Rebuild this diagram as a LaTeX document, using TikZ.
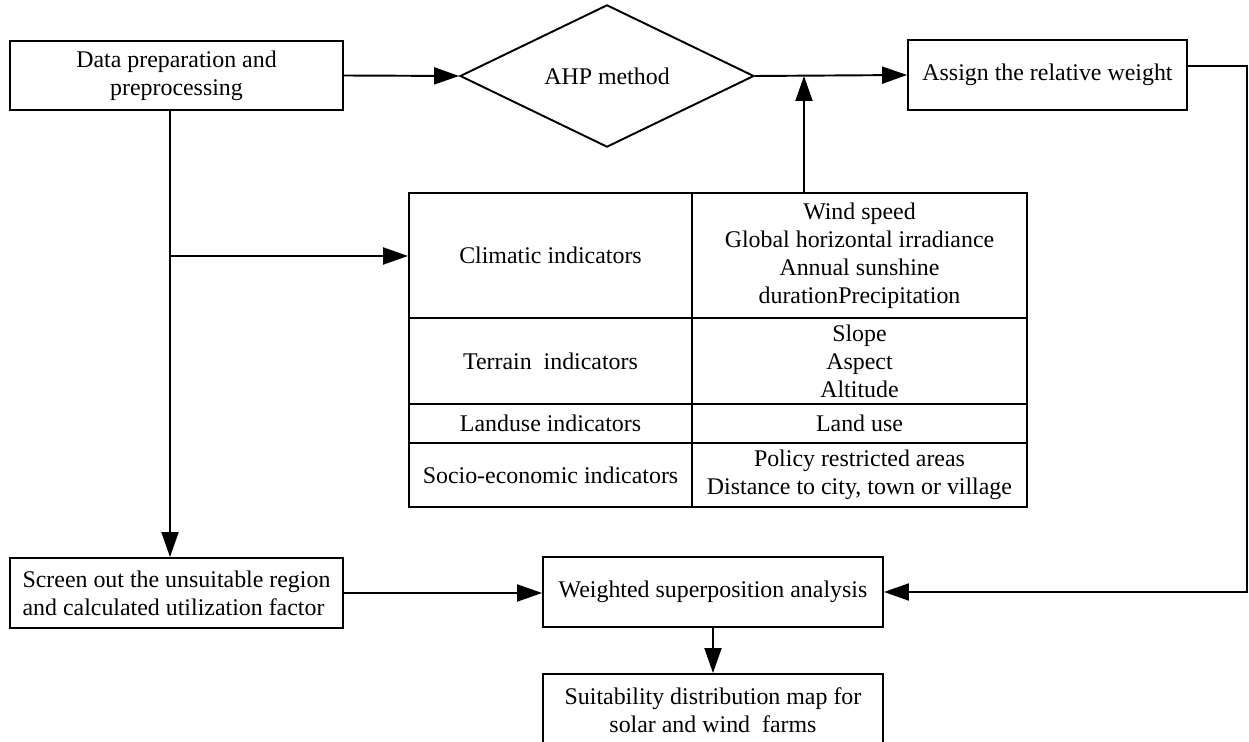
\documentclass[tikz,border=0pt]{standalone}
\usepackage{fontspec}
\setmainfont{Liberation Serif}
\usetikzlibrary{shapes.geometric,arrows.meta}

\begin{document}
\begin{tikzpicture}[x=0.02cm, y=-0.02cm, line width=1.1pt,
  box/.style={draw, align=center, inner sep=0pt, font=\fontsize{13.6}{15.9}\selectfont},
  arrow/.style={-{Triangle[length=0.5cm,width=0.34cm]}}]

\useasboundingbox (0,0) rectangle (1249,742);
\clip (0,0) rectangle (1249,742);

\node[box, minimum width=6.66cm, minimum height=1.38cm] (datanode) at (176.5,75.5) {Data preparation and\\preprocessing};
\node[box, diamond, minimum width=5.88cm, minimum height=2.68cm] (ahpnode) at (607,76) {AHP method};
\node[box, minimum width=5.58cm, minimum height=1.4cm] (weightnode) at (1047.5,75) {Assign the relative weight};

\node[box, minimum width=5.66cm, minimum height=2.5cm] (climnode) at (550.5,255.5) {Climatic indicators};
\node[box, minimum width=6.7cm, minimum height=2.5cm] (climvalnode) at (859.5,255.5) {Wind speed\\Global horizontal irradiance\\Annual sunshine\\durationPrecipitation};
\node[box, minimum width=5.66cm, minimum height=1.72cm] (terrnode) at (550.5,361) {Terrain~ indicators};
\node[box, minimum width=6.7cm, minimum height=1.72cm] (terrvalnode) at (859.5,361) {Slope\\Aspect\\Altitude};
\node[box, minimum width=5.66cm, minimum height=0.78cm] (landnode) at (550.5,423.5) {Landuse indicators};
\node[box, minimum width=6.7cm, minimum height=0.78cm] (landvalnode) at (859.5,423.5) {Land use};
\node[box, minimum width=5.66cm, minimum height=1.28cm] (socnode) at (550.5,475) {Socio-economic indicators};
\node[box, minimum width=6.7cm, minimum height=1.28cm] (socvalnode) at (859.5,475) {Policy restricted areas\\Distance to city, town or village};

\node[box, align=left, minimum width=6.66cm, minimum height=1.4cm] (screennode) at (176.5,593) {Screen out the unsuitable region\\and calculated utilization factor};
\node[box, minimum width=6.8cm, minimum height=1.4cm] (weightednode) at (713,592) {Weighted superposition analysis};
\node[box, minimum width=6.8cm, minimum height=1.44cm] (suitnode) at (713,710) {Suitability distribution map for\\solar and wind~ farms};

\coordinate (forkpt) at (170,256);
\coordinate (joinpt) at (804,76);
\coordinate (loopcorner) at (1247,66);

\draw[arrow] (datanode.east) -- (ahpnode.west);
\draw[arrow] (ahpnode.east) -- (weightnode.west);
\draw[arrow] (climvalnode.north -| joinpt) -- (joinpt);
\draw[arrow] (datanode.south -| forkpt) -- (screennode.north -| forkpt);
\draw[arrow] (forkpt) -- (forkpt -| climnode.west);
\draw[arrow] (weightnode.east |- loopcorner) -- (loopcorner) -- (loopcorner |- weightednode.east) -- (weightednode.east);
\draw[arrow] (screennode.east) -- (screennode.east -| weightednode.west);
\draw[arrow] (weightednode.south) -- (suitnode.north);

\end{tikzpicture}
\end{document}
